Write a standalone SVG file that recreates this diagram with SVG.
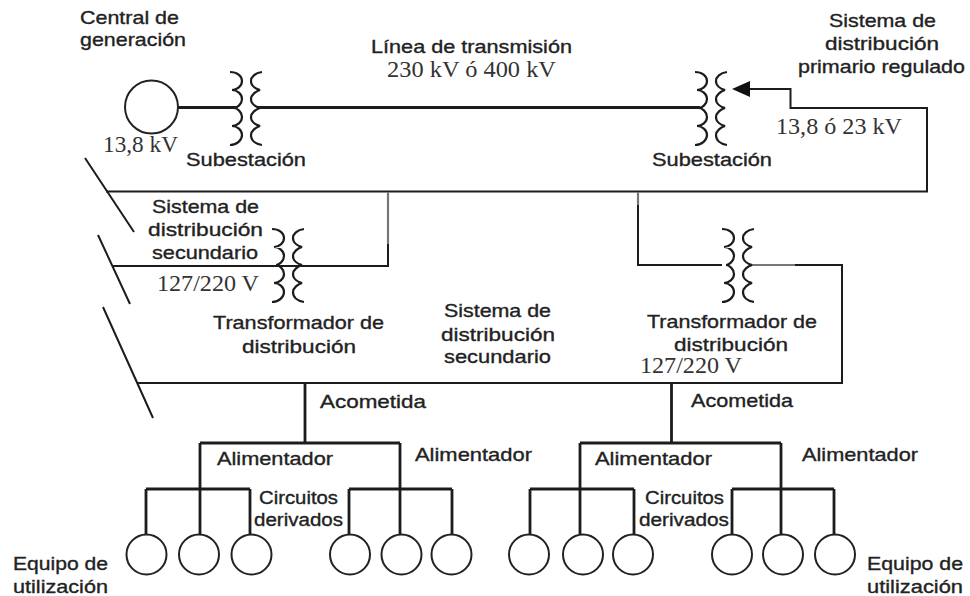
<svg xmlns="http://www.w3.org/2000/svg" xmlns:xlink="http://www.w3.org/1999/xlink" width="970" height="596" viewBox="0 0 970 596">
<style>
text{fill:#222}
.s{font-family:"Liberation Sans",Arial,sans-serif;font-size:19px;stroke:#222;stroke-width:.35px}
.c{font-size:18px}
.t{font-family:"Liberation Serif","Times New Roman",serif;font-size:23px;fill:#333}
.w,.b,.g,.k{fill:none;stroke:#1c1c1c}
.w{stroke-width:2}
.b{stroke-width:2.800}
.g{stroke:#777;stroke-width:2.200}
.k{stroke-width:2.200}
.n{fill:#fff;stroke:#222;stroke-width:2}
</style>
<defs>
<g id="xf">
<path class="k" d="M0 0C7 0 12 4 12 9C12 14 7 18 2 18C7 18 12 22 12 27C12 32 7 36 4 36C7 36 12 40 12 45C12 50 7 54 2 54C7 54 12 58 12 63C12 68 7 73 0 73"/>
<path class="k" d="M32 0C25 1 21 5 21 9C21 14 26 17 30 18C26 19 21 23 21 27C21 32 26 35 30 36C26 37 21 41 21 45C21 50 26 53 30 54C26 55 21 59 21 63C21 68 25 72 32 73"/>
</g>
</defs>
<g id="connectors">
<path class="b" d="M178 107.500H236M258 107.500H700"/>
<path class="w" d="M749 89H790.500V108H927V191.500H106"/>
<path class="w" d="M388 257V266H113"/>
<path class="g" d="M388 192V244"/>
<path class="w" d="M388 244V266"/>
<path class="w" d="M305 266H388"/>
<path class="g" d="M638 192V205"/>
<path class="w" d="M638 205V265H722"/>
<path class="g" d="M750 265H795"/>
<path class="w" d="M795 265H842V383H137"/>
<path class="w" d="M85 158L134 232M98 235L130 304M103 307L153 418"/>
<path class="b" d="M305 383V443M200 443H400M200 443V535M400 443V535M146 489H250M146 489V535M250 489V535M349 489H452M349 489V535M452 489V535"/>
<path class="b" d="M671.500 383V443M580 443H781M580 443V535M781 443V535M530 489H634M530 489V535M634 489V535M732 489H834M732 489V535M834 489V535"/>
<polygon points="732,89 750,81 750,97" fill="#111"/>
</g>
<g id="central"><circle class="n" cx="151.500" cy="107" r="26.500"/><text class="s" x="80" y="24" textLength="99" lengthAdjust="spacingAndGlyphs">Central de</text><text class="s" x="80" y="46" textLength="106" lengthAdjust="spacingAndGlyphs">generación</text><text class="t" x="103" y="152" textLength="75" lengthAdjust="spacingAndGlyphs">13,8 kV</text></g>
<g id="sub1"><use xlink:href="#xf" href="#xf" x="230" y="72"/><text class="s" x="186" y="166" textLength="120" lengthAdjust="spacingAndGlyphs">Subestación</text></g>
<g id="linea"><text class="s" x="371" y="53" textLength="201" lengthAdjust="spacingAndGlyphs">Línea de transmisión</text><text class="t" x="387" y="77" textLength="169" lengthAdjust="spacingAndGlyphs">230 kV ó 400 kV</text></g>
<g id="sub2"><use xlink:href="#xf" href="#xf" x="695" y="72"/><text class="s" x="652" y="166" textLength="120" lengthAdjust="spacingAndGlyphs">Subestación</text></g>
<g id="primario"><text class="s" x="829" y="27" textLength="107" lengthAdjust="spacingAndGlyphs">Sistema de</text><text class="s" x="825" y="50" textLength="114" lengthAdjust="spacingAndGlyphs">distribución</text><text class="s" x="798" y="73" textLength="167" lengthAdjust="spacingAndGlyphs">primario regulado</text><text class="t" x="776" y="134" textLength="126" lengthAdjust="spacingAndGlyphs">13,8 ó 23 kV</text></g>
<g id="sec1"><text class="s" x="152" y="213" textLength="107" lengthAdjust="spacingAndGlyphs">Sistema de</text><text class="s" x="148" y="236" textLength="115" lengthAdjust="spacingAndGlyphs">distribución</text><text class="s" x="152" y="259" textLength="106" lengthAdjust="spacingAndGlyphs">secundario</text><text class="t" x="157" y="291" textLength="102" lengthAdjust="spacingAndGlyphs">127/220 V</text></g>
<g id="tr1"><use xlink:href="#xf" href="#xf" x="272" y="229"/><text class="s" x="213" y="329" textLength="171" lengthAdjust="spacingAndGlyphs">Transformador de</text><text class="s" x="242" y="353" textLength="114" lengthAdjust="spacingAndGlyphs">distribución</text></g>
<g id="sec2"><text class="s" x="444" y="317" textLength="107" lengthAdjust="spacingAndGlyphs">Sistema de</text><text class="s" x="441" y="341" textLength="114" lengthAdjust="spacingAndGlyphs">distribución</text><text class="s" x="444" y="363" textLength="107" lengthAdjust="spacingAndGlyphs">secundario</text></g>
<g id="tr2"><use xlink:href="#xf" href="#xf" x="722" y="229"/><text class="s" x="647" y="328" textLength="170" lengthAdjust="spacingAndGlyphs">Transformador de</text><text class="s" x="674" y="351" textLength="114" lengthAdjust="spacingAndGlyphs">distribución</text><text class="t" x="640" y="373" textLength="102" lengthAdjust="spacingAndGlyphs">127/220 V</text></g>
<g id="izq"><text class="s" x="320" y="408" textLength="106" lengthAdjust="spacingAndGlyphs">Acometida</text><text class="s" x="217" y="465" textLength="116" lengthAdjust="spacingAndGlyphs">Alimentador</text><text class="s" x="415" y="461" textLength="117" lengthAdjust="spacingAndGlyphs">Alimentador</text><text class="s c" x="259" y="504" textLength="79" lengthAdjust="spacingAndGlyphs">Circuitos</text><text class="s c" x="254" y="526" textLength="89" lengthAdjust="spacingAndGlyphs">derivados</text><text class="s" x="13" y="570" textLength="95" lengthAdjust="spacingAndGlyphs">Equipo de</text><text class="s" x="13" y="593" textLength="95" lengthAdjust="spacingAndGlyphs">utilización</text></g>
<g id="der"><text class="s" x="691" y="407" textLength="102" lengthAdjust="spacingAndGlyphs">Acometida</text><text class="s" x="595" y="465" textLength="117" lengthAdjust="spacingAndGlyphs">Alimentador</text><text class="s" x="802" y="461" textLength="116" lengthAdjust="spacingAndGlyphs">Alimentador</text><text class="s c" x="645" y="504" textLength="79" lengthAdjust="spacingAndGlyphs">Circuitos</text><text class="s c" x="639" y="526" textLength="90" lengthAdjust="spacingAndGlyphs">derivados</text><text class="s" x="867" y="570" textLength="96" lengthAdjust="spacingAndGlyphs">Equipo de</text><text class="s" x="867" y="593" textLength="96" lengthAdjust="spacingAndGlyphs">utilización</text></g>
<g id="eq1"><circle class="n" cx="146.500" cy="554.500" r="20"/></g>
<g id="eq2"><circle class="n" cx="199" cy="554.500" r="20"/></g>
<g id="eq3"><circle class="n" cx="251.500" cy="554.500" r="20"/></g>
<g id="eq4"><circle class="n" cx="350" cy="554.500" r="20"/></g>
<g id="eq5"><circle class="n" cx="401.500" cy="554.500" r="20"/></g>
<g id="eq6"><circle class="n" cx="451.500" cy="554.500" r="20"/></g>
<g id="eq7"><circle class="n" cx="529" cy="554.500" r="20"/></g>
<g id="eq8"><circle class="n" cx="583" cy="554.500" r="20"/></g>
<g id="eq9"><circle class="n" cx="633" cy="554.500" r="20"/></g>
<g id="eq10"><circle class="n" cx="732" cy="554.500" r="20"/></g>
<g id="eq11"><circle class="n" cx="783" cy="554.500" r="20"/></g>
<g id="eq12"><circle class="n" cx="835" cy="554.500" r="20"/></g>
</svg>
